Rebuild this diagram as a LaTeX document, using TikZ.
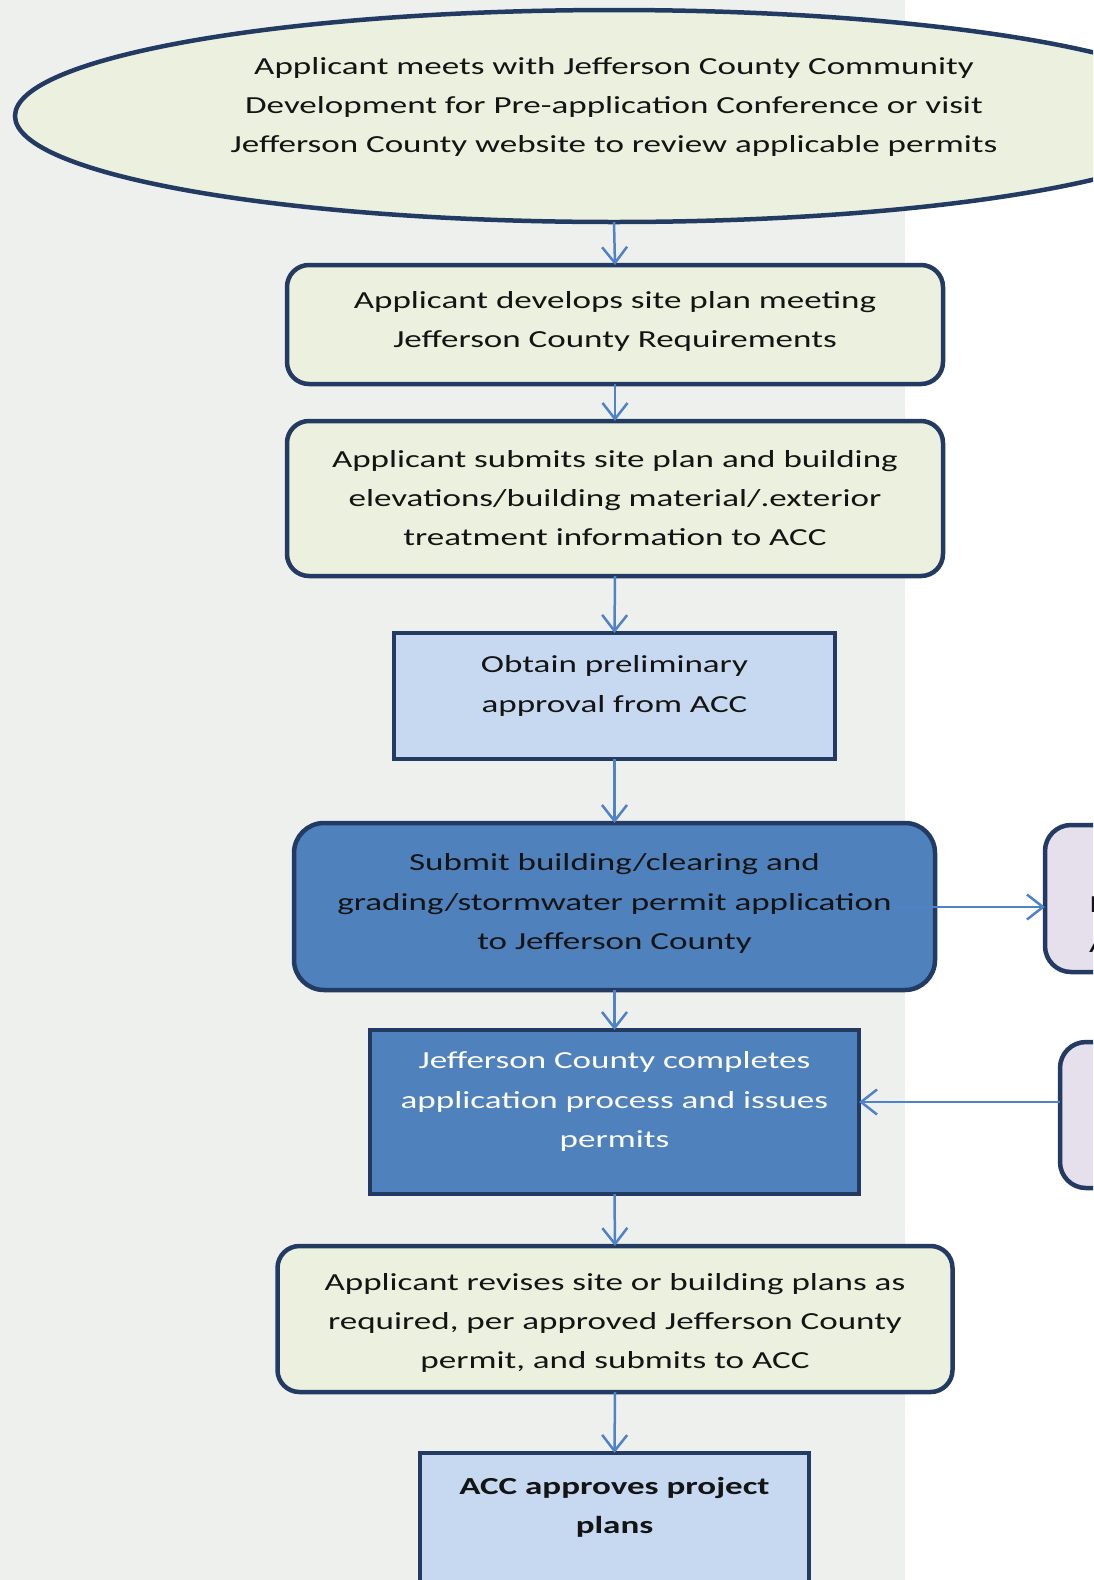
\documentclass[tikz,border=0pt]{standalone}
\usepackage{fontspec}
\setmainfont{Carlito}[FakeStretch=1.43]
\usetikzlibrary{shapes.geometric,arrows.meta,calc}

\definecolor{pagegray}{RGB}{238,240,237}
\definecolor{framenavy}{RGB}{35,58,98}
\definecolor{paleolive}{RGB}{235,241,222}
\definecolor{paleblue}{RGB}{198,217,241}
\definecolor{midblue}{RGB}{79,129,189}
\definecolor{lavender}{RGB}{229,224,236}
\definecolor{flowblue}{RGB}{80,130,200}
\definecolor{inkgray}{RGB}{20,20,20}

\begin{document}
\begin{tikzpicture}[x=1pt,y=-1pt,
  every node/.style={inner sep=0pt, outer sep=0pt},
  frame/.style={draw=framenavy, line width=4.5pt},
  roundbox/.style={frame, rounded corners=22pt, fill=paleolive},
  squarebox/.style={draw=framenavy, line width=4.5pt, fill=paleblue},
  sidebox/.style={frame, rounded corners=26pt, fill=lavender},
  steptext/.style={align=center, text=inkgray, font=\fontsize{24.5}{39.3}\selectfont},
  flow/.style={draw=flowblue, line width=2.5pt,
    -{Straight Barb[length=16pt,width=25pt,line width=2.5pt]}},
]
\useasboundingbox (0,0) rectangle (1093,1580);
\clip (0,0) rectangle (1093,1580);

% page background: grey column with white margin on the right
\fill[white] (0,0) rectangle (1093,1580);
\fill[pagegray] (0,0) rectangle (905,1580);

% opening step
\node[ellipse, frame, fill=paleolive, minimum width=1198, minimum height=212] (meet) at (614,116) {};
\node[steptext] (meet-t) at (614,107) {Applicant meets with Jefferson County Community\\
Development for Pre-application Conference or visit\\
Jefferson County website to review applicable permits};

% site plan
\node[roundbox, minimum width=656, minimum height=119] (plan) at (615,324.5) {};
\node[steptext] (plan-t) at (615,321.5) {Applicant develops site plan meeting\\
Jefferson County Requirements};

% submission to ACC
\node[roundbox, minimum width=656, minimum height=155] (submit) at (615,498.5) {};
\node[steptext] (submit-t) at (615,498) {Applicant submits site plan and building\\
elevations/building material/.exterior\\
treatment information to ACC};

% preliminary approval
\node[squarebox, minimum width=441, minimum height=126] (prelim) at (614.5,696) {};
\node[steptext] (prelim-t) at (614.5,686) {Obtain preliminary\\
approval from ACC};

% permit application
\node[frame, rounded corners=30pt, fill=midblue, minimum width=641, minimum height=167] (apply) at (614.5,906.5) {};
\node[steptext] (apply-t) at (614.5,903.5) {Submit building/clearing and\\
grading/stormwater permit application\\
to Jefferson County};

% side boxes on the right margin
\node[sidebox, minimum width=200, minimum height=147] (sideA) at (1145,898.5) {};
\node[steptext, anchor=base west] (sideA-t1) at (1089,912) {I};
\node[steptext, anchor=base west] (sideA-t2) at (1089,952) {A};
\node[sidebox, minimum width=200, minimum height=146] (sideB) at (1160,1115) {};

% permits issued
\node[squarebox, fill=midblue, minimum width=489, minimum height=164] (issue) at (614.5,1112) {};
\node[steptext, text=white] (issue-t) at (614.5,1101.5) {Jefferson County completes\\
application process and issues\\
permits};

% revisions
\node[roundbox, minimum width=675, minimum height=146] (revise) at (615,1319) {};
\node[steptext] (revise-t) at (615,1323) {Applicant revises site or building plans as\\
required, per approved Jefferson County\\
permit, and submits to ACC};

% final approval
\node[squarebox, minimum width=389, minimum height=260] (final) at (614.5,1583) {};
\node[steptext, font=\fontsize{24.5}{39.3}\selectfont\bfseries] (final-t) at (614.5,1507) {ACC approves project\\
plans};

% connectors
\draw[flow] (meet.south) -- (plan.north);
\draw[flow] (plan.south) -- (submit.north);
\draw[flow] (submit.south) -- (prelim.north);
\draw[flow] (prelim.south) -- (apply.north);
\draw[flow] (apply.south) -- (issue.north);
\draw[flow] (issue.south) -- (revise.north);
\draw[flow] (revise.south) -- (final.north);
\draw[flow] ([xshift=-42pt,yshift=-0.5pt]apply.east) -- ([yshift=-8.5pt]sideA.west);
\draw[flow] ([yshift=13pt]sideB.west) -- ([yshift=10pt]issue.east);
\end{tikzpicture}
\end{document}
